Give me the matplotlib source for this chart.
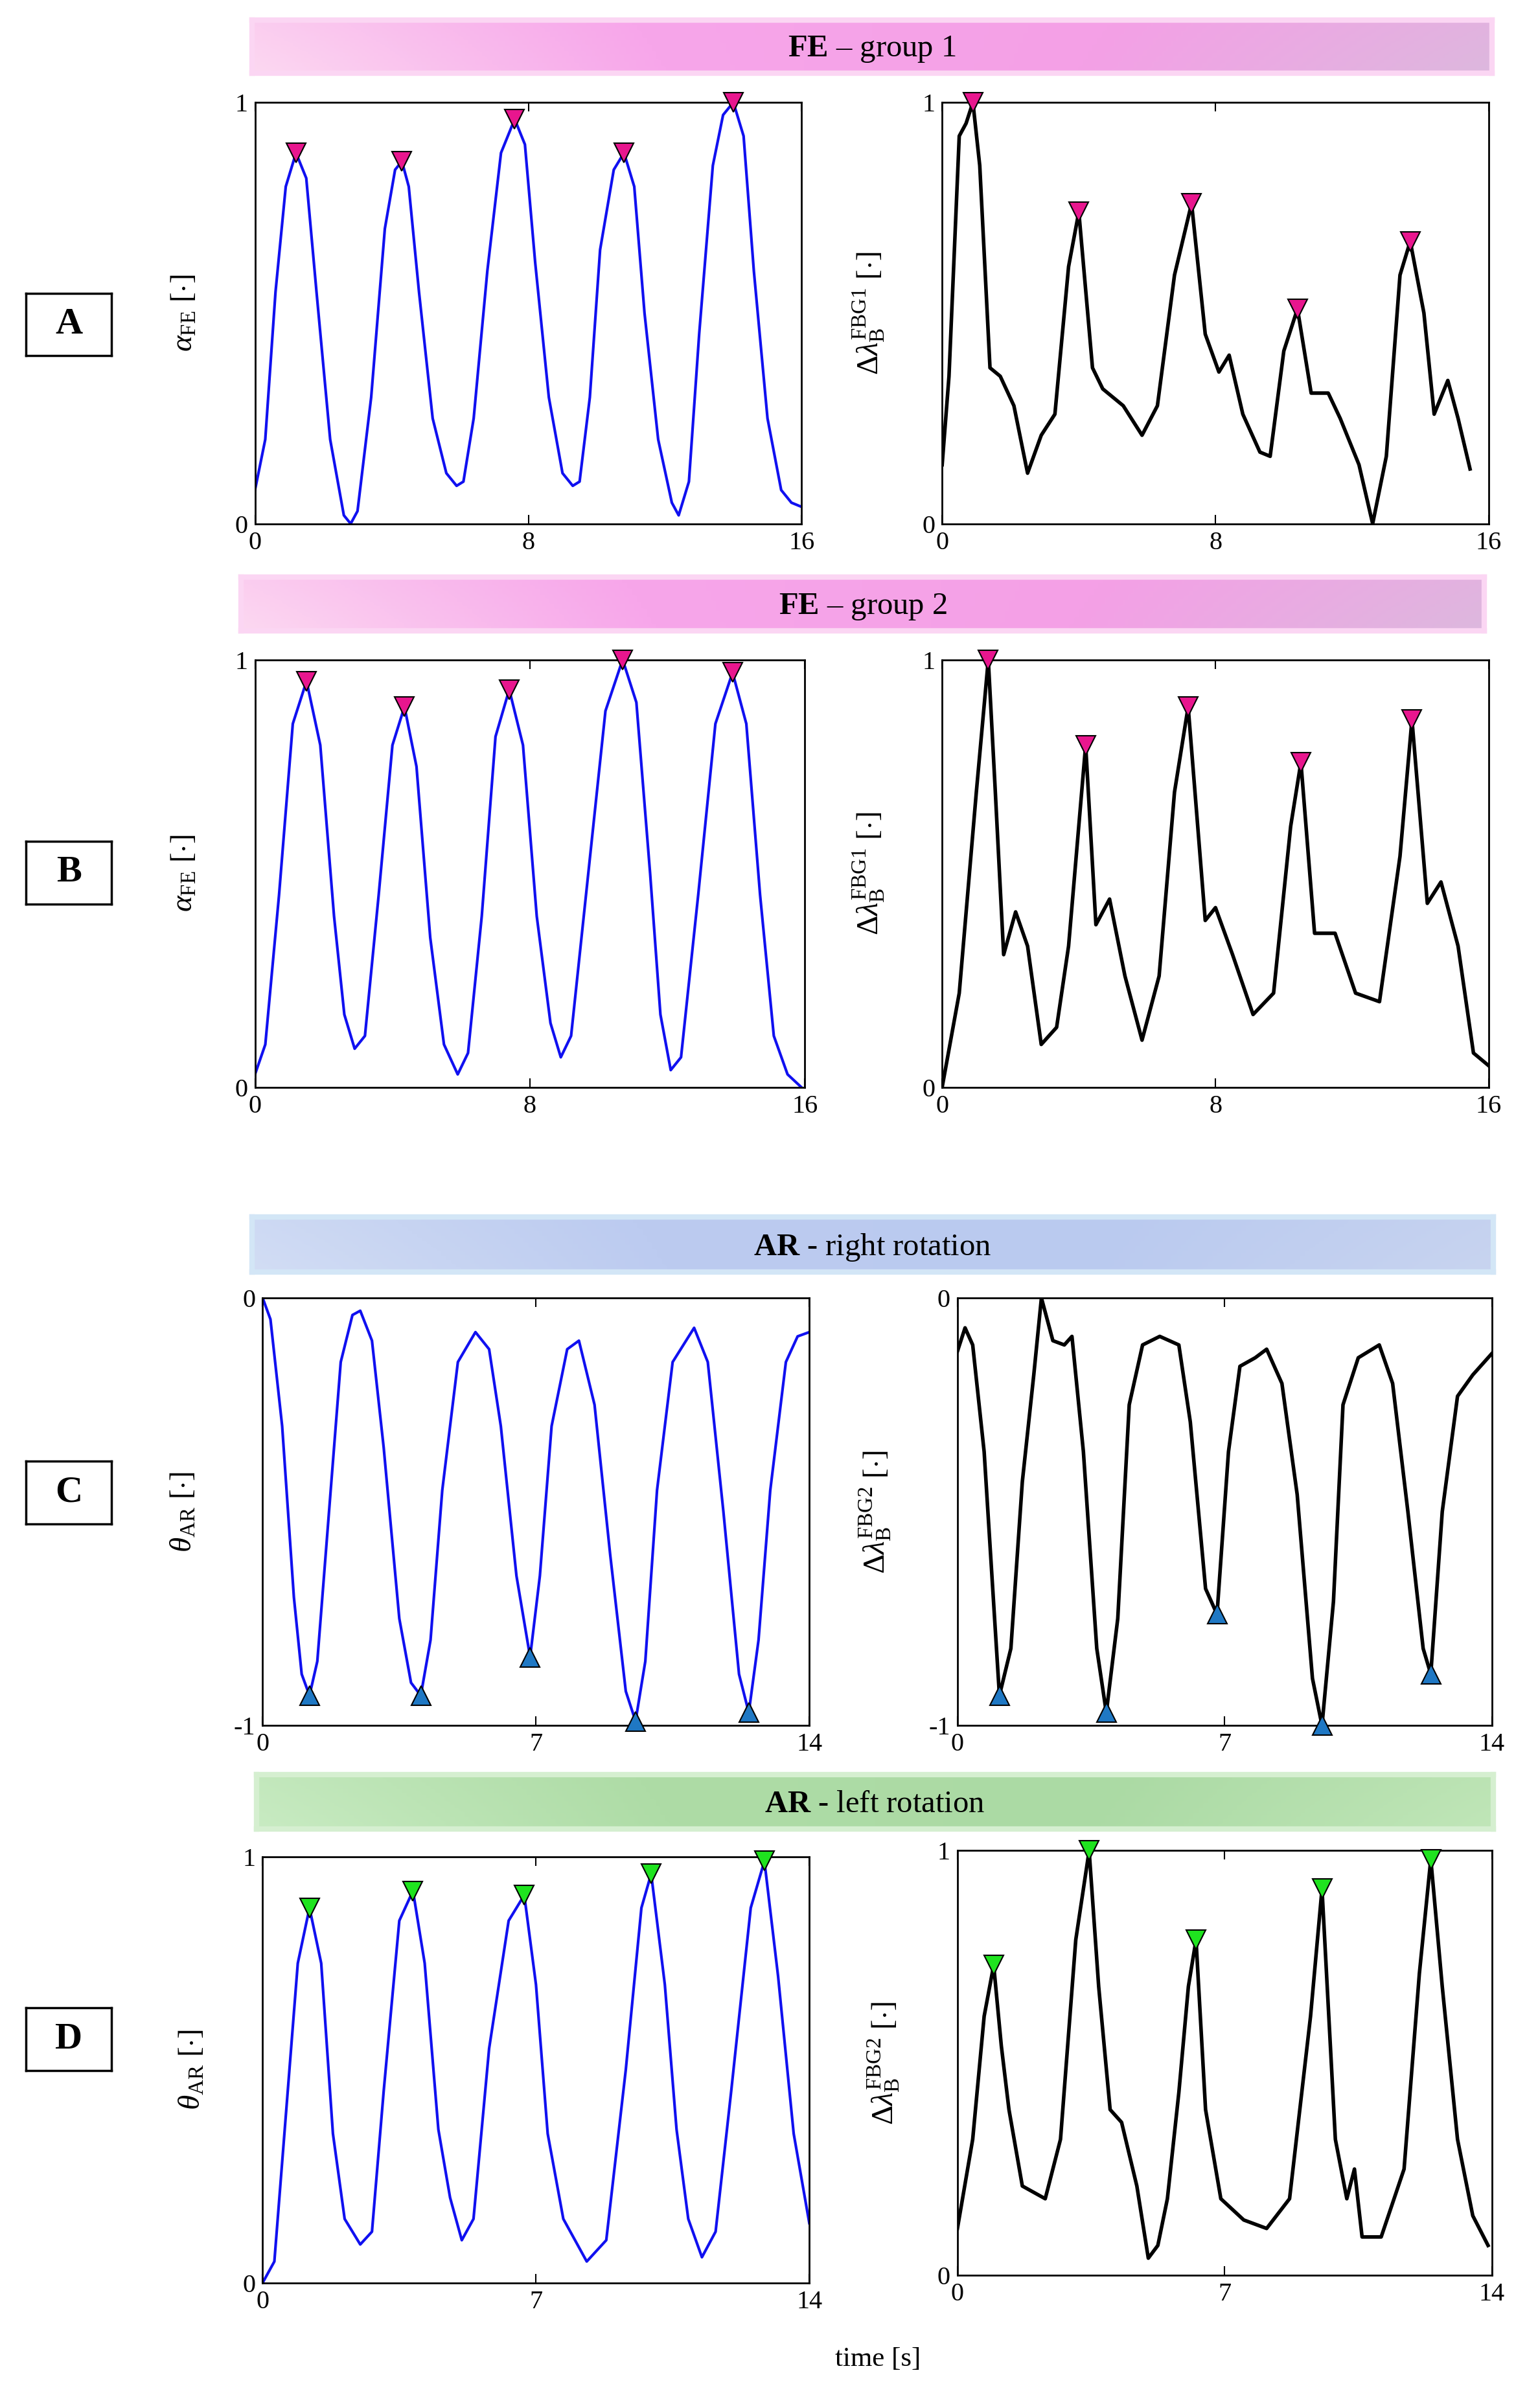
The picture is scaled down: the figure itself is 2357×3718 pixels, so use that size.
import numpy as np
import matplotlib
matplotlib.use("Agg")
import matplotlib.pyplot as plt
from matplotlib.colors import LinearSegmentedColormap

plt.rcParams['font.family'] = ['Liberation Serif', 'DejaVu Serif']
plt.rcParams['mathtext.fontset'] = 'custom'
plt.rcParams['mathtext.rm'] = 'Liberation Serif'
plt.rcParams['mathtext.it'] = 'Liberation Serif:italic'
plt.rcParams['mathtext.bf'] = 'Liberation Serif:bold'

# ---------------- data ----------------
A_alpha_t = [0,0.3,0.6,0.9,1.2,1.5,1.8,2.2,2.6,2.8,3.0,3.4,3.8,4.1,4.3,4.5,4.8,5.2,5.6,5.9,6.1,6.4,6.8,7.2,7.6,7.9,8.2,8.6,9.0,9.3,9.5,9.8,10.1,10.5,10.8,11.1,11.4,11.8,12.2,12.4,12.7,13.0,13.4,13.7,14.0,14.3,14.6,15.0,15.4,15.7,16]
A_alpha_v = [.08,.2,.55,.8,.88,.82,.55,.2,.02,0,.03,.3,.7,.84,.86,.8,.55,.25,.12,.09,.1,.25,.6,.88,.96,.9,.62,.3,.12,.09,.1,.3,.65,.84,.88,.8,.5,.2,.05,.02,.1,.45,.85,.97,1.0,.92,.6,.25,.08,.05,.04]
A_alpha_pk_t = [1.2, 4.3, 7.6, 10.8, 14.0]
A_alpha_pk_v = [.88, .86, .96, .88, 1.0]

A_fbg_t = [0,0.2,0.5,0.7,0.9,1.1,1.4,1.7,2.1,2.5,2.9,3.3,3.7,4.0,4.4,4.7,5.3,5.85,6.3,6.8,7.3,7.7,8.1,8.4,8.8,9.3,9.6,10.0,10.4,10.8,11.3,11.65,12.2,12.6,13.0,13.4,13.7,14.1,14.4,14.8,15.1,15.45]
A_fbg_v = [.14,.35,.92,.95,1.0,.85,.37,.35,.28,.12,.21,.26,.61,.74,.37,.32,.28,.21,.28,.59,.76,.45,.36,.4,.26,.17,.16,.41,.51,.31,.31,.25,.14,0,.16,.59,.67,.5,.26,.34,.25,.13]
A_fbg_pk_t = [0.9, 4.0, 7.3, 10.4, 13.7]
A_fbg_pk_v = [1.0, .74, .76, .51, .67]

B_alpha_t = [0,0.3,0.7,1.1,1.5,1.9,2.3,2.6,2.9,3.2,3.6,4.0,4.35,4.7,5.1,5.5,5.9,6.2,6.6,7.0,7.4,7.8,8.2,8.6,8.9,9.2,9.7,10.2,10.7,11.1,11.5,11.8,12.1,12.4,12.9,13.4,13.9,14.3,14.7,15.1,15.5,15.9]
B_alpha_v = [.03,.1,.45,.85,.95,.8,.4,.17,.09,.12,.45,.8,.89,.75,.35,.1,.03,.08,.4,.82,.93,.8,.4,.15,.07,.12,.5,.88,1.0,.9,.5,.17,.04,.07,.45,.85,.97,.85,.45,.12,.03,0]
B_alpha_pk_t = [1.5, 4.35, 7.4, 10.7, 13.9]
B_alpha_pk_v = [.95, .89, .93, 1.0, .97]

B_fbg_t = [0,0.5,1.0,1.35,1.55,1.8,2.15,2.5,2.9,3.35,3.7,4.2,4.5,4.9,5.35,5.85,6.35,6.8,7.2,7.7,8.0,8.5,9.1,9.7,10.2,10.5,10.9,11.5,12.1,12.8,13.4,13.75,14.2,14.6,15.1,15.55,16]
B_fbg_v = [0,.22,.69,1.0,.7,.31,.41,.33,.1,.14,.33,.8,.38,.44,.26,.11,.26,.69,.89,.39,.42,.31,.17,.22,.61,.76,.36,.36,.22,.2,.54,.86,.43,.48,.33,.08,.05]
B_fbg_pk_t = [1.35, 4.2, 7.2, 10.5, 13.75]
B_fbg_pk_v = [1.0, .8, .89, .76, .86]

C_theta_t = [0,0.2,0.5,0.8,1.0,1.2,1.4,1.7,2.0,2.3,2.5,2.8,3.1,3.5,3.8,4.05,4.3,4.6,5.0,5.45,5.8,6.1,6.5,6.85,7.1,7.4,7.8,8.1,8.5,8.9,9.3,9.55,9.8,10.1,10.5,11.05,11.4,11.8,12.2,12.45,12.7,13.0,13.4,13.7,14]
C_theta_v = [0,-.05,-.3,-.7,-.88,-.93,-.85,-.5,-.15,-.04,-.03,-.1,-.35,-.75,-.9,-.93,-.8,-.45,-.15,-.08,-.12,-.3,-.65,-.84,-.65,-.3,-.12,-.1,-.25,-.6,-.92,-.99,-.85,-.45,-.15,-.07,-.15,-.5,-.88,-.97,-.8,-.45,-.15,-.09,-.08]
C_theta_pk_t = [1.2, 4.05, 6.85, 9.55, 12.45]
C_theta_pk_v = [-.93, -.93, -.84, -.99, -.97]

C_fbg_t = [0,0.2,0.4,0.7,1.1,1.4,1.7,2.0,2.2,2.5,2.8,3.0,3.3,3.65,3.9,4.2,4.5,4.85,5.3,5.8,6.1,6.5,6.8,7.1,7.4,7.8,8.1,8.5,8.9,9.3,9.55,9.85,10.1,10.5,11.05,11.4,11.8,12.2,12.4,12.7,13.1,13.5,14]
C_fbg_v = [-.125,-.07,-.11,-.36,-.93,-.82,-.43,-.18,0,-.1,-.11,-.09,-.36,-.82,-.97,-.75,-.25,-.11,-.09,-.11,-.29,-.68,-.74,-.36,-.16,-.14,-.12,-.2,-.46,-.89,-1.0,-.71,-.25,-.14,-.11,-.2,-.5,-.82,-.88,-.5,-.23,-.18,-.13]
C_fbg_pk_t = [1.1, 3.9, 6.8, 9.55, 12.4]
C_fbg_pk_v = [-.93, -.97, -.74, -1.0, -.88]

D_theta_t = [0,0.3,0.6,0.9,1.2,1.5,1.8,2.1,2.5,2.8,3.1,3.5,3.85,4.15,4.5,4.8,5.1,5.4,5.8,6.3,6.7,7.0,7.3,7.7,8.3,8.8,9.3,9.7,9.95,10.3,10.6,10.9,11.25,11.6,12.0,12.5,12.85,13.2,13.6,14]
D_theta_v = [0,.05,.4,.75,.88,.75,.35,.15,.09,.12,.45,.85,.92,.75,.36,.2,.1,.15,.55,.85,.91,.7,.35,.15,.05,.1,.5,.88,.96,.7,.36,.15,.06,.12,.45,.88,.99,.72,.35,.14]
D_theta_pk_t = [1.2, 3.85, 6.7, 9.95, 12.85]
D_theta_pk_v = [.88, .92, .91, .96, .99]

D_fbg_t = [0,0.4,0.7,0.95,1.15,1.35,1.7,2.3,2.7,3.1,3.45,3.7,4.0,4.3,4.7,5.0,5.25,5.5,5.8,6.05,6.25,6.5,6.9,7.5,8.1,8.7,9.25,9.55,9.9,10.2,10.4,10.6,11.1,11.7,12.1,12.4,12.7,13.1,13.5,13.9]
D_fbg_v = [.11,.32,.61,.73,.54,.39,.21,.18,.32,.79,1.0,.68,.39,.36,.21,.04,.07,.18,.43,.68,.79,.39,.18,.13,.11,.18,.61,.91,.32,.18,.25,.09,.09,.25,.71,.98,.68,.32,.14,.07]
D_fbg_pk_t = [0.95, 3.45, 6.25, 9.55, 12.4]
D_fbg_pk_v = [.73, 1.0, .79, .91, .98]

# ---------------- layout ----------------
W, H = 2357, 3718
fig = plt.figure(figsize=(W/100, H/100), dpi=100)
SX, SY = 1000.0, 1577.0

def rect(x0, x1, y0, y1):
    return [x0/SX, 1 - y1/SY, (x1-x0)/SX, (y1-y0)/SY]

def banner(x0, x1, y0, y1, colors, edge, text):
    ax = fig.add_axes(rect(x0, x1, y0, y1))
    cmap = LinearSegmentedColormap.from_list('b', colors)
    g = np.linspace(0, 1, 256)[None, :]
    vert = np.linspace(0.85, 1.0, 32)[:, None]
    ax.imshow(g * vert + (1 - vert) * 0.5, aspect='auto', cmap=cmap, extent=[0, 1, 0, 1])
    ax.set_xlim(0, 1); ax.set_ylim(0, 1)
    ax.set_xticks([]); ax.set_yticks([])
    for s in ax.spines.values():
        s.set_color(edge); s.set_linewidth(6)
    ax.text(0.5, 0.45, r'$\mathbf{%s}$' % text[0] + text[1], ha='center', va='center',
            fontsize=35, transform=ax.transAxes)

pink = ['#FCD8F1', '#F7A6EA', '#F4A0E6', '#DDB8DE']
blue = ['#D2DDF4', '#BCCBF0', '#BACAEF', '#C8D4F0']
green = ['#C8EBC2', '#AEDCA6', '#ABDAA4', '#C0E6B8']
banner(165, 977, 13, 48, pink, '#FBD6F3', ('FE', ' \u2013 group 1'))
banner(158, 972, 378, 413, pink, '#FBD6F3', ('FE', ' \u2013 group 2'))
banner(165, 978, 797, 833, blue, '#D3E6F6', ('AR', ' - right rotation'))
banner(168, 978, 1162, 1198, green, '#D5EFD0', ('AR', ' - left rotation'))

def letter(y0, y1, s):
    ax = fig.add_axes(rect(17, 73, y0, y1))
    ax.set_xticks([]); ax.set_yticks([])
    for sp in ax.spines.values():
        sp.set_linewidth(2.5)
    ax.text(0.5, 0.5, s, ha='center', va='center', fontsize=42, fontweight='bold', transform=ax.transAxes)

letter(192, 233, 'A'); letter(551, 592, 'B'); letter(957, 998, 'C'); letter(1315, 1356, 'D')

def panel(r, t, v, pt, pv, color, ylim, xt, ylabel, mk, mcol):
    ax = fig.add_axes(rect(*r))
    lw = 4 if color == 'k' else 3
    ax.plot(t, v, color=color, lw=lw, zorder=2, solid_joinstyle='round')
    ax.plot(pt, pv, linestyle='none', marker=mk, markersize=22, markerfacecolor=mcol,
            markeredgecolor='k', markeredgewidth=1.5, zorder=3, clip_on=False)
    ax.set_xlim(xt[0], xt[-1]); ax.set_ylim(*ylim)
    ax.set_xticks(xt); ax.set_yticks(list(ylim))
    ax.set_yticklabels([('%g' % y) for y in ylim])
    ax.tick_params(direction='in', top=True, length=10, width=1.5, labelsize=29, pad=8)
    ax.tick_params(axis='y', length=0)
    for sp in ax.spines.values():
        sp.set_linewidth(2)
    ax.set_ylabel(ylabel, fontsize=34, labelpad=40)
    return ax

PINK = '#E8168E'; BLUE = '#1F78C4'; GREEN = '#1FE31F'
lab_a = r'$\alpha_{\mathrm{FE}}$ [$\cdot$]'
lab_f1 = r'$\Delta\lambda_{\mathrm{B}}^{\mathrm{FBG1}}$ [$\cdot$]'
lab_f2 = r'$\Delta\lambda_{\mathrm{B}}^{\mathrm{FBG2}}$ [$\cdot$]'
lab_t = r'$\theta_{\mathrm{AR}}$ [$\cdot$]'

panel((167, 525, 67, 343), A_alpha_t, A_alpha_v, A_alpha_pk_t, A_alpha_pk_v, '#1010F0', (0, 1), [0, 8, 16], lab_a, 'v', PINK)
panel((617, 975, 67, 343), A_fbg_t, A_fbg_v, A_fbg_pk_t, A_fbg_pk_v, 'k', (0, 1), [0, 8, 16], lab_f1, 'v', PINK)
panel((167, 527, 432, 712), B_alpha_t, B_alpha_v, B_alpha_pk_t, B_alpha_pk_v, '#1010F0', (0, 1), [0, 8, 16], lab_a, 'v', PINK)
panel((617, 975, 432, 712), B_fbg_t, B_fbg_v, B_fbg_pk_t, B_fbg_pk_v, 'k', (0, 1), [0, 8, 16], lab_f1, 'v', PINK)
panel((172, 530, 850, 1130), C_theta_t, C_theta_v, C_theta_pk_t, C_theta_pk_v, '#1010F0', (-1, 0), [0, 7, 14], lab_t, '^', BLUE)
panel((627, 977, 850, 1130), C_fbg_t, C_fbg_v, C_fbg_pk_t, C_fbg_pk_v, 'k', (-1, 0), [0, 7, 14], lab_f2, '^', BLUE)
panel((172, 530, 1216, 1495), D_theta_t, D_theta_v, D_theta_pk_t, D_theta_pk_v, '#1010F0', (0, 1), [0, 7, 14], lab_t, 'v', GREEN)
panel((627, 977, 1212, 1490), D_fbg_t, D_fbg_v, D_fbg_pk_t, D_fbg_pk_v, 'k', (0, 1), [0, 7, 14], lab_f2, 'v', GREEN)

fig.text(575/SX, 1 - 1545/SY, 'time [s]', ha='center', va='center', fontsize=31)

fig.savefig('out.png', dpi=100)
